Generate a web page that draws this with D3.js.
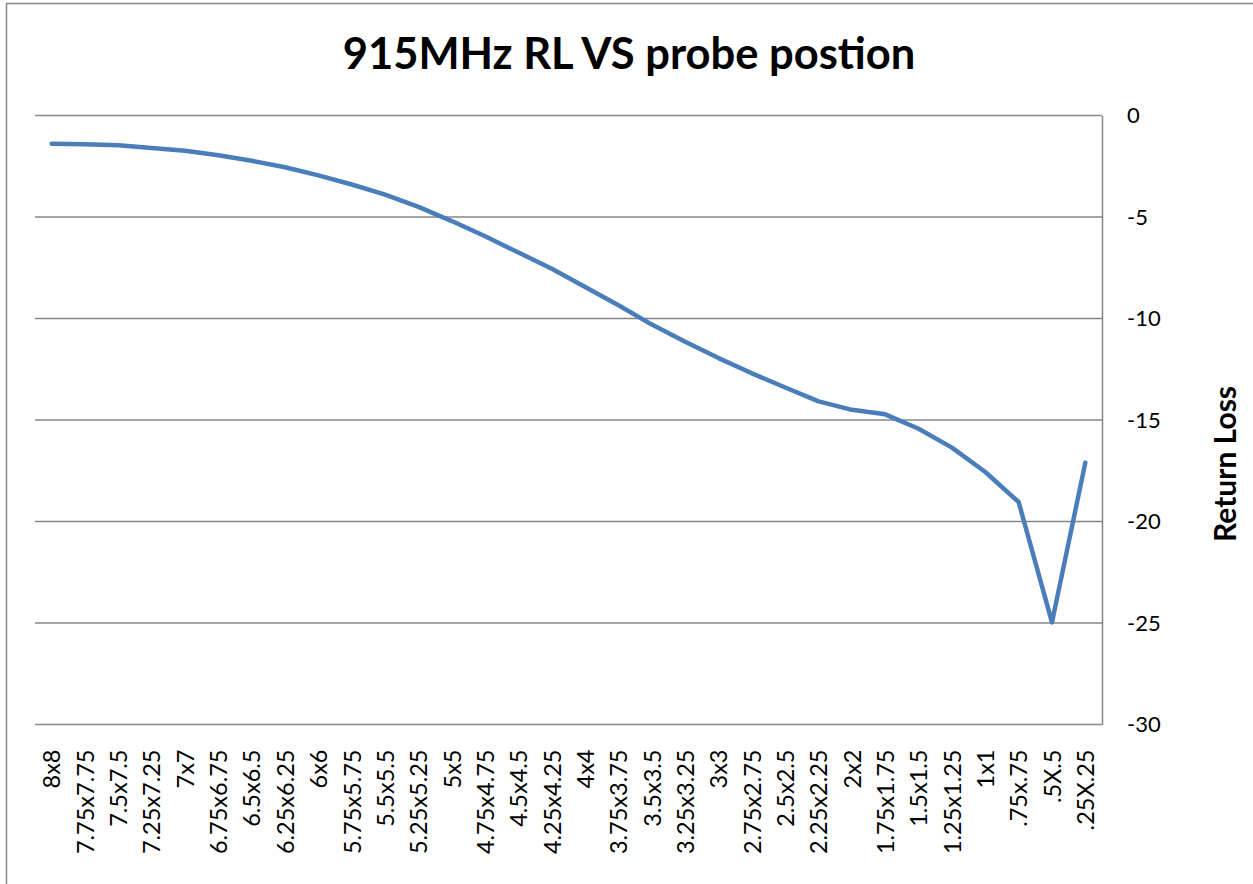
<!DOCTYPE html>
<html>
<head>
<meta charset="utf-8">
<script src="https://d3js.org/d3.v7.min.js"></script>
<style>
  body { margin: 0; background: #fff; }
  svg { display: block; font-family: Lato, "Open Sans", sans-serif; }
</style>
</head>
<body>
<svg id="chart" width="1253" height="884"></svg>
<script>
// probe positions, left to right
var positions = ["8x8", "7.75x7.75", "7.5x7.5", "7.25x7.25", "7x7", "6.75x6.75", "6.5x6.5", "6.25x6.25",
  "6x6", "5.75x5.75", "5.5x5.5", "5.25x5.25", "5x5", "4.75x4.75", "4.5x4.5", "4.25x4.25",
  "4x4", "3.75x3.75", "3.5x3.5", "3.25x3.25", "3x3", "2.75x2.75", "2.5x2.5", "2.25x2.25",
  "2x2", "1.75x1.75", "1.5x1.5", "1.25x1.25", "1x1", ".75x.75", ".5X.5", ".25X.25"];

// return loss (dB) at 915MHz
var returnLoss = [-1.39, -1.42, -1.47, -1.6, -1.74, -1.96, -2.23, -2.55,
  -2.95, -3.4, -3.9, -4.5, -5.2, -5.95, -6.75, -7.55,
  -8.45, -9.35, -10.3, -11.15, -11.95, -12.7, -13.4, -14.08,
  -14.5, -14.72, -15.43, -16.36, -17.56, -19.04, -24.97, -17.1];

var yTicks = [0, -5, -10, -15, -20, -25, -30];

var svg = d3.select("#chart");
var margin = {top: 115.5, left: 35, right: 151, bottom: 159.5};
var width = 1253 - margin.left - margin.right,
    height = 884 - margin.top - margin.bottom;

// outer chart border (runs off the right and bottom of the picture)
svg.append("rect")
  .attr("x", 6.5).attr("y", 3.5)
  .attr("width", 1300).attr("height", 950)
  .attr("fill", "none").attr("stroke", "#868686").attr("stroke-width", 1.5);

svg.append("text")
  .attr("x", 629).attr("y", 69)
  .attr("text-anchor", "middle")
  .style("font-size", "43.5px").style("font-weight", "bold")
  .text("915MHz RL VS probe postion");

var g = svg.append("g").attr("transform", "translate(" + margin.left + "," + margin.top + ")");

var x = d3.scalePoint().domain(positions).range([0, width]).padding(0.5);
var y = d3.scaleLinear().domain([-30, 0]).range([height, 0]);

// horizontal gridlines
g.selectAll(".grid")
  .data(yTicks)
  .enter().append("line")
  .attr("class", "grid")
  .attr("x1", 0).attr("x2", width)
  .attr("y1", function(d) { return y(d); })
  .attr("y2", function(d) { return y(d); })
  .attr("stroke", "#868686").attr("stroke-width", 1.5);

// value axis on the right
var yAxis = g.append("g")
  .attr("transform", "translate(" + width + ",0)")
  .call(d3.axisRight(y).tickValues(yTicks).tickSize(0).tickPadding(25)
    .tickFormat(function(d) { return String(d); }));
yAxis.select(".domain").attr("stroke", "#868686").attr("stroke-width", 1.5);
yAxis.selectAll("text")
  .style("font-size", "22px").style("font-family", "Lato, sans-serif").attr("fill", "#000");

// category labels
var xAxis = g.append("g")
  .attr("transform", "translate(0," + height + ")")
  .call(d3.axisBottom(x).tickSize(0).tickPadding(0));
xAxis.select(".domain").remove();
xAxis.selectAll("text")
  .attr("transform", "rotate(-90)")
  .attr("x", -25).attr("y", 0).attr("dy", "0.35em")
  .attr("text-anchor", "end")
  .style("font-size", "23.5px").style("font-family", "Lato, sans-serif").attr("fill", "#000");

svg.append("text")
  .attr("transform", "translate(1236,464) rotate(-90)")
  .attr("text-anchor", "middle")
  .style("font-size", "30px").style("font-weight", "bold")
  .text("Return Loss");

var line = d3.line()
  .x(function(d, i) { return x(positions[i]); })
  .y(function(d) { return y(d); });

g.append("path")
  .datum(returnLoss)
  .attr("d", line)
  .attr("fill", "none")
  .attr("stroke", "#4a7ebb")
  .attr("stroke-width", 4.5)
  .attr("stroke-linejoin", "round")
  .attr("stroke-linecap", "round");
</script>
</body>
</html>
